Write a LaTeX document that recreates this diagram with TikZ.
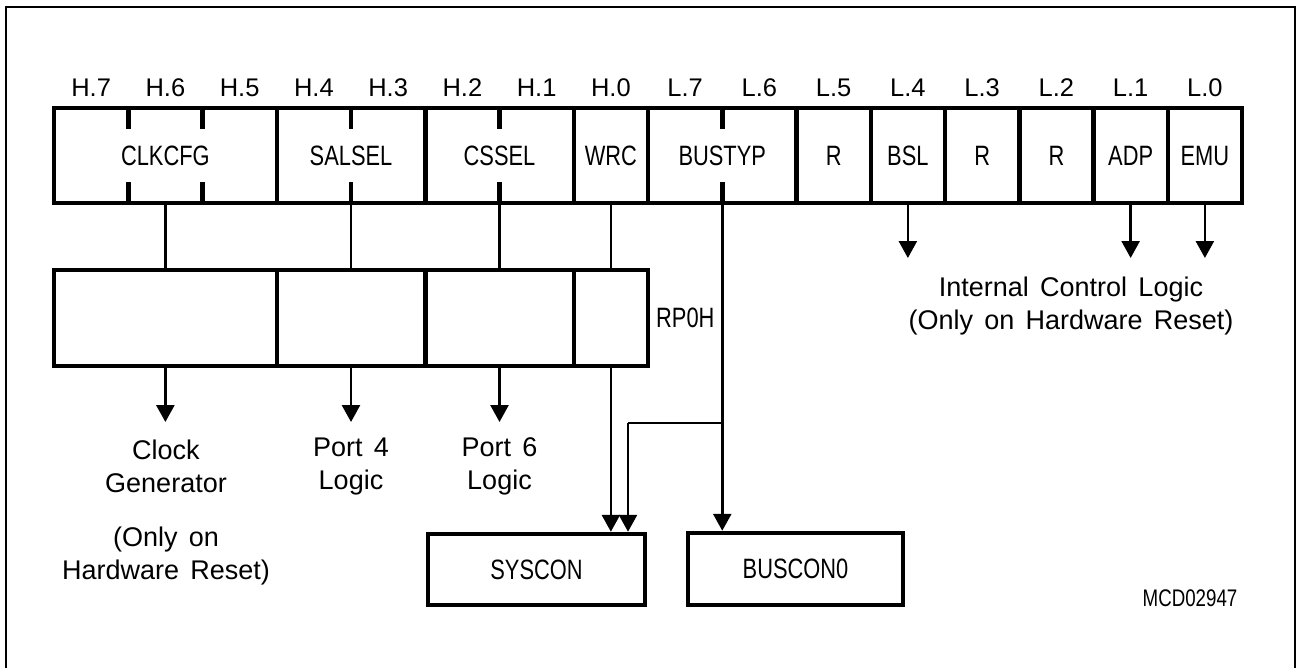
\documentclass[tikz,border=0pt]{standalone}
\usepackage{fontspec}
\setmainfont[WordSpace=1.5]{Liberation Sans}
\newfontfamily\capsf[FakeStretch=0.78]{Liberation Sans}
\usetikzlibrary{arrows.meta}
\begin{document}
\begin{tikzpicture}[x=1pt,y=-1pt,
  field/.style={draw, line width=4.5pt, inner sep=0pt, font=\capsf\fontsize{28}{30}\selectfont},
  tick/.style={line width=4.5pt},
  conn/.style={line width=2.7pt},
  arr/.style={conn,-{Triangle[width=18pt,length=17pt]}},
  lbl/.style={font=\fontsize{27}{33}\selectfont, align=center, inner sep=0pt},
  bitlbl/.style={font=\fontsize{25.5}{30}\selectfont, inner sep=0pt},
  capt/.style={font=\capsf\fontsize{28}{30}\selectfont, inner sep=0pt}]
\useasboundingbox (0,0) rectangle (1297,667);
\clip (0,0) rectangle (1297,667);
\draw[line width=2.8pt] (6,7) rectangle (1295,700);

% upper register
\foreach \n/\s/\w/\t in {clkcfg/0/3/CLKCFG, salsel/3/2/SALSEL, cssel/5/2/CSSEL, wrc/7/1/WRC,
  bustyp/8/2/BUSTYP, rA/10/1/R, bsl/11/1/BSL, rB/12/1/R, rC/13/1/R, adp/14/1/ADP, emu/15/1/EMU}
  \node[field, minimum width=\w*74.25pt, minimum height=95pt] (\n) at ({54+74.25*(\s+\w/2)},155.5) {\t};
\foreach \i in {1,2,4,6,9} {
  \draw[tick] ({54+74.25*\i},108) -- ({54+74.25*\i},129);
  \draw[tick] ({54+74.25*\i},182) -- ({54+74.25*\i},203);
}
\foreach \t [count=\i from 0] in {H.7,H.6,H.5,H.4,H.3,H.2,H.1,H.0,L.7,L.6,L.5,L.4,L.3,L.2,L.1,L.0}
  \node[bitlbl] (b\i) at ({54+74.25*(\i+0.5)},88) {\t};

% lower register RP0H
\foreach \n/\s/\w in {pclk/0/3, psal/3/2, pcss/5/2, pwrc/7/1}
  \node[field, minimum width=\w*74.25pt, minimum height=96pt] (\n) at ({54+74.25*(\s+\w/2)},318) {};
\node[capt, anchor=west] (rp0h) at (656,318) {RP0H};

% target boxes
\node[field, minimum width=217pt, minimum height=71pt] (syscon) at (536.5,569.5) {SYSCON};
\node[field, minimum width=215pt, minimum height=72pt] (buscon) at (795.5,569) {BUSCON0};

% helper coordinates
\coordinate (lvl) at (0,422);
\coordinate (ict) at (0,258);
\coordinate (jn) at (722.25,423);
\coordinate (s2x) at (628,0);

% connectors
\draw[conn] (clkcfg.south) -- (pclk.north);
\draw[conn] (salsel.south) -- (psal.north);
\draw[conn] (cssel.south) -- (pcss.north);
\draw[conn] (wrc.south) -- (pwrc.north);
\draw[arr] (pclk.south) -- (pclk.south |- lvl);
\draw[arr] (psal.south) -- (psal.south |- lvl);
\draw[arr] (pcss.south) -- (pcss.south |- lvl);
\draw[arr] (pwrc.south) -- (pwrc.south |- syscon.north);
\draw[arr] (bustyp.south) -- (bustyp.south |- buscon.north);
\draw[conn] (jn) -- (jn -| s2x);
\draw[arr] (jn -| s2x) -- (syscon.north -| s2x);
\draw[arr] (bsl.south) -- (bsl.south |- ict);
\draw[arr] (adp.south) -- (adp.south |- ict);
\draw[arr] (emu.south) -- (emu.south |- ict);

% labels
\node[lbl] (clk) at (166,466.5) {Clock\\Generator};
\node[lbl] (clkn) at (166,556.5) {(Only on\\Hardware Reset)};
\node[lbl] (p4) at (351,466.5) {Port 4\\Logic};
\node[lbl] (p6) at (499.5,466.5) {Port 6\\Logic};
\node[lbl] (icl) at (1071,306.5) {Internal Control Logic\\(Only on Hardware Reset)};
\node[font=\capsf\fontsize{24}{26}\selectfont, inner sep=0pt] (mcd) at (1190,598) {MCD02947};
\end{tikzpicture}
\end{document}
